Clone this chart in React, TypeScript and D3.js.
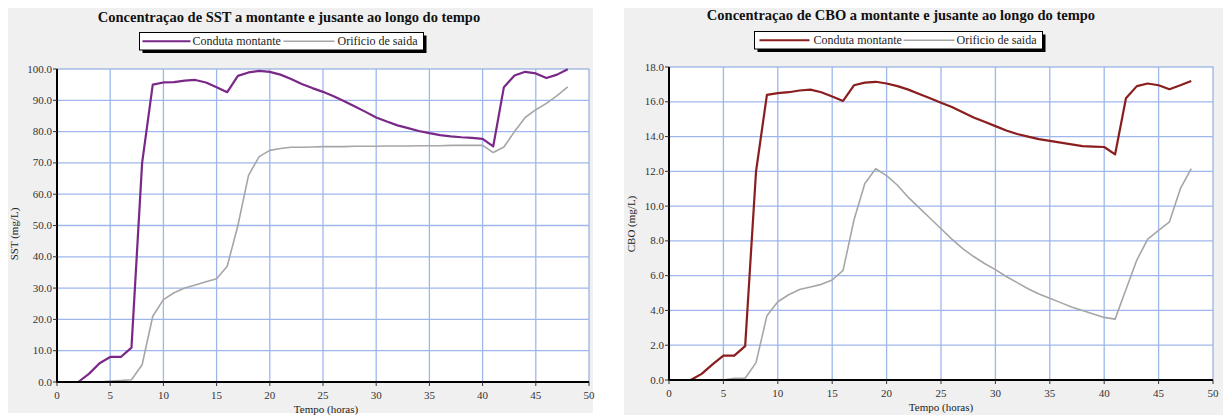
import React from 'react';
import * as d3 from 'd3';

// hours of the simulation (x axis)
const HOURS = [0, 1, 2, 3, 4, 5, 6, 7, 8, 9, 10, 11, 12, 13, 14, 15, 16, 17, 18, 19, 20, 21, 22, 23, 24,
  25, 26, 27, 28, 29, 30, 31, 32, 33, 34, 35, 36, 37, 38, 39, 40, 41, 42, 43, 44, 45, 46, 47, 48];

const SERIES_NAMES = ['Conduta montante', 'Orificio de saida'];
const X_TICKS = [0, 5, 10, 15, 20, 25, 30, 35, 40, 45, 50];

// SST (mg/L)
const SST_MONTANTE = [0, 0, 0, 2.6, 6, 8, 8, 11, 70, 95, 95.7, 95.8, 96.3, 96.5, 95.7, 94.2, 92.6, 97.8, 98.9, 99.4, 99.1,
  98.2, 96.8, 95.2, 93.9, 92.7, 91.3, 89.7, 88, 86.3, 84.5, 83.2, 82, 81.1, 80.2, 79.5, 78.9, 78.5, 78.2, 78, 77.7,
  75.3, 94.2, 97.9, 99.1, 98.6, 97.1, 98.2, 99.9];
const SST_SAIDA = [0, 0, 0, 0, 0, 0.3, 0.5, 0.7, 5.5, 21, 26.3, 28.5, 30, 31, 32, 33, 37, 50, 66, 72, 74,
  74.6, 75, 75, 75.1, 75.2, 75.2, 75.2, 75.3, 75.3, 75.3, 75.4, 75.4, 75.4, 75.5, 75.5, 75.5, 75.6, 75.6, 75.6, 75.6,
  73.3, 75.1, 80, 84.5, 87, 89, 91.5, 94.3];
const SST_TICKS = [0, 10, 20, 30, 40, 50, 60, 70, 80, 90, 100];

// CBO (mg/L)
const CBO_MONTANTE = [0, 0, 0, 0.35, 0.9, 1.4, 1.4, 1.95, 12, 16.4, 16.5, 16.55, 16.65, 16.7, 16.55, 16.3, 16.05, 16.95, 17.1, 17.15, 17.05,
  16.9, 16.7, 16.45, 16.2, 15.95, 15.7, 15.4, 15.1, 14.85, 14.6, 14.35, 14.15, 14, 13.85, 13.75, 13.65, 13.55, 13.45, 13.42, 13.4,
  12.97, 16.2, 16.9, 17.05, 16.95, 16.72, 16.95, 17.2];
const CBO_SAIDA = [0, 0, 0, 0, 0, 0, 0.1, 0.1, 1, 3.7, 4.5, 4.9, 5.2, 5.35, 5.5, 5.75, 6.3, 9.2, 11.3, 12.15, 11.75,
  11.2, 10.5, 9.9, 9.3, 8.7, 8.1, 7.55, 7.1, 6.7, 6.35, 5.95, 5.6, 5.25, 4.95, 4.7, 4.45, 4.2, 4, 3.8, 3.6,
  3.5, 5.2, 6.9, 8.1, 8.6, 9.1, 11, 12.15];
const CBO_TICKS = [0, 2, 4, 6, 8, 10, 12, 14, 16, 18];

const FONT = '"Liberation Serif", "Times New Roman", serif';
const GRID = '#9fb6ec';
const GRAY = '#a6a6a6';

type ChartProps = {
  title: string;
  yLabel: string;
  montante: number[];
  saida: number[];
  yTicks: number[];
  color: string;
  panel: { x: number; y: number; w: number; h: number };
  plot: { left: number; right: number; top: number; bottom: number };
  titlePos: [number, number];
  legend: { x: number; y: number; w: number; h: number; l1: number; l1w: number; t1: number; l2: number; l2w: number; t2: number };
  yLabelPos: [number, number];
  xLabelPos: [number, number];
  tickY: number;
};

function Chart(p: ChartProps) {
  const x = d3.scaleLinear().domain([0, 50]).range([p.plot.left, p.plot.right]);
  const y = d3.scaleLinear().domain([0, p.yTicks[p.yTicks.length - 1]]).range([p.plot.bottom, p.plot.top]);
  const line = d3.line<number>().x((_, i) => x(HOURS[i])).y(d => y(d));
  const lg = p.legend;
  const midY = lg.y + lg.h / 2;

  return (
    <g>
      <rect x={p.panel.x} y={p.panel.y} width={p.panel.w} height={p.panel.h} fill='#f0f0f0' />
      <text x={p.titlePos[0]} y={p.titlePos[1]} textAnchor='middle' fontFamily={FONT} fontWeight='bold' fontSize={14.5} fill='#111'>
        {p.title}
      </text>

      {/* legend */}
      <rect x={lg.x + 3} y={lg.y + 3} width={lg.w} height={lg.h} fill='#000' />
      <rect x={lg.x} y={lg.y} width={lg.w} height={lg.h} fill='#fff' stroke='#000' strokeWidth={1} />
      <line x1={lg.x + lg.l1} x2={lg.x + lg.l1 + lg.l1w} y1={midY} y2={midY} stroke={p.color} strokeWidth={2} />
      <text x={lg.x + lg.t1} y={midY + 4} fontFamily={FONT} fontSize={12} fill='#222'>{SERIES_NAMES[0]}</text>
      <line x1={lg.x + lg.l2} x2={lg.x + lg.l2 + lg.l2w} y1={midY} y2={midY} stroke={GRAY} strokeWidth={1.3} />
      <text x={lg.x + lg.t2} y={midY + 4} fontFamily={FONT} fontSize={12} fill='#222'>{SERIES_NAMES[1]}</text>

      {/* plot area */}
      <rect x={p.plot.left} y={p.plot.top} width={p.plot.right - p.plot.left} height={p.plot.bottom - p.plot.top}
        fill='#fff' stroke='#7f9ddc' strokeWidth={1} />
      {X_TICKS.slice(1, -1).map(t => (
        <line key={'gx' + t} x1={x(t)} x2={x(t)} y1={p.plot.top} y2={p.plot.bottom} stroke={GRID} strokeWidth={1.3} />
      ))}
      {p.yTicks.slice(1, -1).map(t => (
        <line key={'gy' + t} x1={p.plot.left} x2={p.plot.right} y1={y(t)} y2={y(t)} stroke={GRID} strokeWidth={1.3} />
      ))}

      <path d={line(p.saida) || ''} fill='none' stroke={GRAY} strokeWidth={1.6} strokeLinejoin='round' />
      <path d={line(p.montante) || ''} fill='none' stroke={p.color} strokeWidth={2.2} strokeLinejoin='round' />

      {/* axes */}
      <line x1={p.plot.left} x2={p.plot.left} y1={p.plot.top} y2={p.plot.bottom + 1} stroke='#000' strokeWidth={2} />
      <line x1={p.plot.left - 1} x2={p.plot.right} y1={p.plot.bottom} y2={p.plot.bottom} stroke='#000' strokeWidth={2} />
      {p.yTicks.map(t => (
        <g key={'ty' + t}>
          <line x1={p.plot.left - 4} x2={p.plot.left} y1={y(t)} y2={y(t)} stroke='#333' strokeWidth={1} />
          <text x={p.plot.left - 5} y={y(t) + 3.5} textAnchor='end' fontFamily={FONT} fontSize={11} fill='#333'>
            {d3.format('.1f')(t)}
          </text>
        </g>
      ))}
      {X_TICKS.map(t => (
        <g key={'tx' + t}>
          <line x1={x(t)} x2={x(t)} y1={p.plot.bottom} y2={p.plot.bottom + 4} stroke='#333' strokeWidth={1} />
          <text x={x(t)} y={p.tickY} textAnchor='middle' fontFamily={FONT} fontSize={11} fill='#333'>{t}</text>
        </g>
      ))}
      <text x={p.xLabelPos[0]} y={p.xLabelPos[1]} textAnchor='middle' fontFamily={FONT} fontSize={11} fill='#222'>
        Tempo (horas)
      </text>
      <text transform={`translate(${p.yLabelPos[0]},${p.yLabelPos[1]}) rotate(-90)`} textAnchor='middle'
        fontFamily={FONT} fontSize={11} fill='#222'>
        {p.yLabel}
      </text>
    </g>
  );
}

export default function App() {
  return (
    <div style={{ position: 'absolute', left: 0, top: 0 }}>
      <svg width={1223} height={415} style={{ display: 'block', background: '#fff' }}>
        <Chart
          title='Concentraçao de SST a montante e jusante ao longo do tempo'
          yLabel='SST (mg/L)'
          montante={SST_MONTANTE}
          saida={SST_SAIDA}
          yTicks={SST_TICKS}
          color='#7a2888'
          panel={{ x: 8, y: 8, w: 585, h: 405 }}
          plot={{ left: 57, right: 589, top: 69, bottom: 382 }}
          titlePos={[289, 22]}
          legend={{ x: 139.5, y: 32.5, w: 284, h: 17.5, l1: 3, l1w: 48, t1: 53, l2: 144, l2w: 51, t2: 198 }}
          yLabelPos={[18, 234]}
          xLabelPos={[326, 413]}
          tickY={399}
        />
        <Chart
          title='Concentraçao de CBO a montante e jusante ao longo do tempo'
          yLabel='CBO (mg/L)'
          montante={CBO_MONTANTE}
          saida={CBO_SAIDA}
          yTicks={CBO_TICKS}
          color='#8a1d1d'
          panel={{ x: 624, y: 8, w: 599, h: 407 }}
          plot={{ left: 669, right: 1213, top: 67, bottom: 380 }}
          titlePos={[901, 20]}
          legend={{ x: 754.5, y: 31.5, w: 288, h: 17.5, l1: 5, l1w: 50, t1: 59, l2: 149, l2w: 51, t2: 202 }}
          yLabelPos={[635, 224]}
          xLabelPos={[941, 411]}
          tickY={397}
        />
      </svg>
    </div>
  );
}
